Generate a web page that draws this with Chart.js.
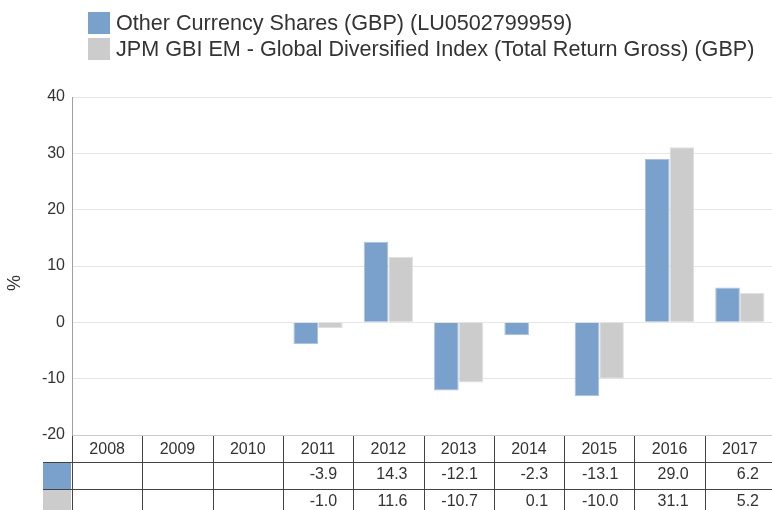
<!DOCTYPE html>
<html>
<head>
<meta charset="utf-8">
<script src="https://cdn.jsdelivr.net/npm/chart.js@4"></script>
<style>
  html,body{margin:0;padding:0;background:#fff;overflow:hidden;}
  #wrap{position:relative;width:775px;height:510px;}
</style>
</head>
<body>
<div id="wrap"><canvas id="chart"></canvas></div>
<script>
// ---- data ----
const years        = ['2008','2009','2010','2011','2012','2013','2014','2015','2016','2017'];
const fundReturns  = [null, null, null, -3.9, 14.3, -12.1, -2.3, -13.1, 29.0, 6.2];
const indexReturns = [null, null, null, -1.0, 11.6, -10.7,  0.1, -10.0, 31.1, 5.2];
const seriesNames  = ['Other Currency Shares (GBP) (LU0502799959)',
                      'JPM GBI EM - Global Diversified Index (Total Return Gross) (GBP)'];
const yTicks       = {min:-20, max:40, step:10};

const BLUE = '#7aa0cc', GREY = '#cccccc', TXT = '#333333';
const FONT = "'Liberation Sans', Arial, sans-serif";

Chart.defaults.font.family = FONT;
Chart.defaults.color = TXT;

// legend drawn top-left, stacked
const legendPlugin = {
  id:'stackLegend',
  afterDraw(chart){
    const ctx = chart.ctx;
    ctx.save();
    ctx.font = '21.6px '+FONT;
    ctx.textBaseline = 'middle';
    chart.data.datasets.forEach((ds,i)=>{
      const y = 12 + i*26;
      ctx.fillStyle = ds.backgroundColor;
      ctx.fillRect(88, y, 22, 22);
      ctx.fillStyle = TXT;
      ctx.fillText(ds.label, 116, y + 12);
    });
    ctx.restore();
  }
};

// "%" axis title
const yTitlePlugin = {
  id:'yTitle',
  afterDraw(chart){
    const ctx = chart.ctx;
    ctx.save();
    ctx.translate(15, 283);
    ctx.rotate(-Math.PI/2);
    ctx.font = '18px '+FONT;
    ctx.fillStyle = TXT;
    ctx.textAlign = 'center';
    ctx.textBaseline = 'middle';
    ctx.fillText('%', 0, 0);
    ctx.restore();
  }
};

// data table under the plot, columns follow the x scale
const tablePlugin = {
  id:'dataTable',
  afterDraw(chart){
    const {ctx, chartArea:a} = chart;
    const x = chart.scales.x;
    const n = years.length;
    const half = (a.right - a.left)/n/2;
    const top = Math.round(a.bottom), rowH = 27, swL = 43;
    ctx.save();

    // swatch cells
    chart.data.datasets.forEach((ds,i)=>{
      ctx.fillStyle = ds.backgroundColor;
      ctx.fillRect(swL, top + rowH*(i+1) + 1, Math.round(a.left) - swL - 1, rowH - 1);
    });

    // grid lines
    ctx.strokeStyle = '#444444';
    ctx.lineWidth = 1;
    ctx.beginPath();
    for(let r=1;r<=2;r++){
      const yy = top + rowH*r + 0.5;
      ctx.moveTo(swL, yy); ctx.lineTo(a.right, yy);
    }
    for(let i=0;i<=n;i++){
      const xx = Math.round(x.getPixelForValue(i) - half) + 0.5;
      ctx.moveTo(xx, top + 1); ctx.lineTo(xx, top + rowH*3);
    }
    ctx.stroke();

    // header years
    ctx.fillStyle = TXT;
    ctx.font = '16px '+FONT;
    ctx.textBaseline = 'middle';
    ctx.textAlign = 'center';
    years.forEach((yr,i)=> ctx.fillText(yr, x.getPixelForValue(i), top + 15));

    // values
    ctx.textAlign = 'right';
    chart.data.datasets.forEach((ds,r)=>{
      ds.data.forEach((v,i)=>{
        if(v===null) return;
        ctx.fillText(v.toFixed(1), x.getPixelForValue(i) + half - 16, top + rowH*(r+1) + 13);
      });
    });
    ctx.restore();
  }
};

new Chart(document.getElementById('chart'), {
  type:'bar',
  data:{
    labels: years,
    datasets:[
      {label:seriesNames[0], data:fundReturns,  backgroundColor:BLUE, borderColor:'#a9c1df', borderWidth:1},
      {label:seriesNames[1], data:indexReturns, backgroundColor:GREY, borderColor:'#e0e0e0', borderWidth:1}
    ]
  },
  options:{
    responsive:true,
    maintainAspectRatio:false,
    devicePixelRatio:1,
    animation:false,
    layout:{padding:{top:97, bottom:75, left:0, right:0}},
    datasets:{bar:{categoryPercentage:0.7, barPercentage:1}},
    plugins:{legend:{display:false}, tooltip:{enabled:false}},
    scales:{
      x:{display:false},
      y:{
        min:yTicks.min, max:yTicks.max,
        afterFit(s){ s.width = 72; },
        ticks:{stepSize:yTicks.step, padding:7, color:TXT, font:{size:16}},
        grid:{drawTicks:false, color:c => c.tick && c.tick.value===yTicks.min ? '#cccccc' : '#e6e6e6'},
        border:{display:true, color:'#a0a0a0'}
      }
    }
  },
  plugins:[legendPlugin, yTitlePlugin, tablePlugin]
});
</script>
</body>
</html>
